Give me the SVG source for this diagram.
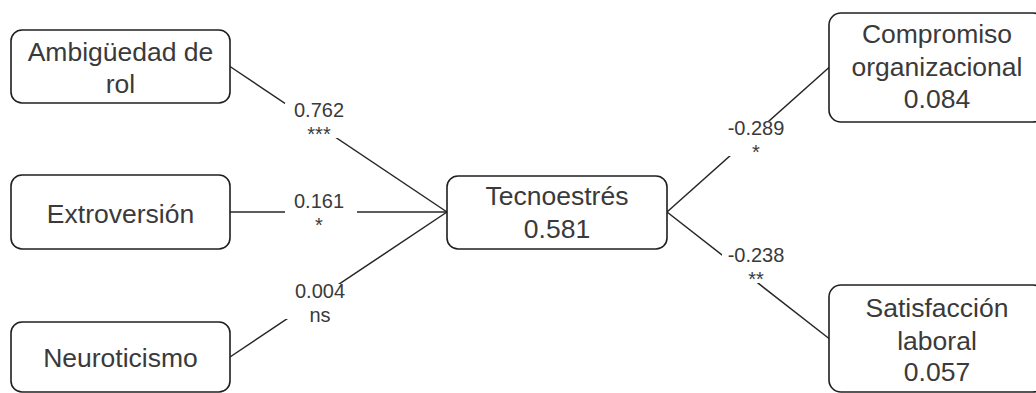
<svg xmlns="http://www.w3.org/2000/svg" width="1036" height="393" viewBox="0 0 1036 393">
  <style>
    .box { fill: #ffffff; stroke: #1f1f1f; stroke-width: 1.6; }
    .edge { fill: none; stroke: #262626; stroke-width: 1.5; }
    .lblbg { fill: #ffffff; stroke: none; }
    .node-text { font-family: "Liberation Sans", Arial, sans-serif; font-size: 26.5px; fill: #3a3a3a; text-anchor: middle; }
    .edge-text { font-family: "Liberation Sans", Arial, sans-serif; font-size: 20px; fill: #3a3a3a; text-anchor: middle; }
  </style>

  <rect width="1036" height="393" fill="#ffffff"/>

  <!-- path coefficients between constructs -->
  <g id="connectors">
    <line class="edge" x1="230" y1="66.5" x2="447" y2="212"/>
    <line class="edge" x1="230" y1="212" x2="447" y2="212"/>
    <line class="edge" x1="230" y1="357" x2="447" y2="212"/>
    <line class="edge" x1="667" y1="212" x2="829" y2="67.5"/>
    <line class="edge" x1="667" y1="212" x2="829" y2="338.5"/>

    <g id="label-amb">
      <rect class="lblbg" x="285" y="103" width="72" height="35"/>
      <text class="edge-text" x="319" y="117">0.762</text>
      <text class="edge-text" x="319" y="141">***</text>
    </g>
    <g id="label-ext">
      <rect class="lblbg" x="285" y="194" width="72" height="35"/>
      <text class="edge-text" x="319" y="208">0.161</text>
      <text class="edge-text" x="319" y="232">*</text>
    </g>
    <g id="label-neu">
      <rect class="lblbg" x="285" y="284" width="72" height="35"/>
      <text class="edge-text" x="320" y="298">0.004</text>
      <text class="edge-text" x="320" y="322">ns</text>
    </g>
    <g id="label-comp">
      <rect class="lblbg" x="722" y="121" width="68" height="35"/>
      <text class="edge-text" x="756" y="135">-0.289</text>
      <text class="edge-text" x="756" y="159">*</text>
    </g>
    <g id="label-sat">
      <rect class="lblbg" x="722" y="248" width="68" height="35"/>
      <text class="edge-text" x="756" y="262">-0.238</text>
      <text class="edge-text" x="756" y="286">**</text>
    </g>
  </g>

  <g id="ambiguedad">
    <rect class="box" x="11" y="30" width="219" height="73" rx="11"/>
    <text class="node-text" x="120.5" y="60.5">Ambigüedad de</text>
    <text class="node-text" x="120.5" y="92.5">rol</text>
  </g>

  <g id="extroversion">
    <rect class="box" x="11" y="175" width="219" height="74" rx="11"/>
    <text class="node-text" x="120.5" y="222.5">Extroversión</text>
  </g>

  <g id="neuroticismo">
    <rect class="box" x="11" y="322" width="219" height="70" rx="11"/>
    <text class="node-text" x="120.5" y="366.5">Neuroticismo</text>
  </g>

  <g id="tecnoestres">
    <rect class="box" x="447" y="176" width="220" height="73" rx="11"/>
    <text class="node-text" x="557" y="205">Tecnoestrés</text>
    <text class="node-text" x="557" y="238">0.581</text>
  </g>

  <g id="compromiso">
    <rect class="box" x="829" y="13" width="216" height="109" rx="12"/>
    <text class="node-text" x="937" y="43">Compromiso</text>
    <text class="node-text" x="937" y="76">organizacional</text>
    <text class="node-text" x="937" y="108">0.084</text>
  </g>

  <g id="satisfaccion">
    <rect class="box" x="829" y="285" width="216" height="107" rx="12"/>
    <text class="node-text" x="937" y="317">Satisfacción</text>
    <text class="node-text" x="937" y="350">laboral</text>
    <text class="node-text" x="937" y="381">0.057</text>
  </g>
</svg>
